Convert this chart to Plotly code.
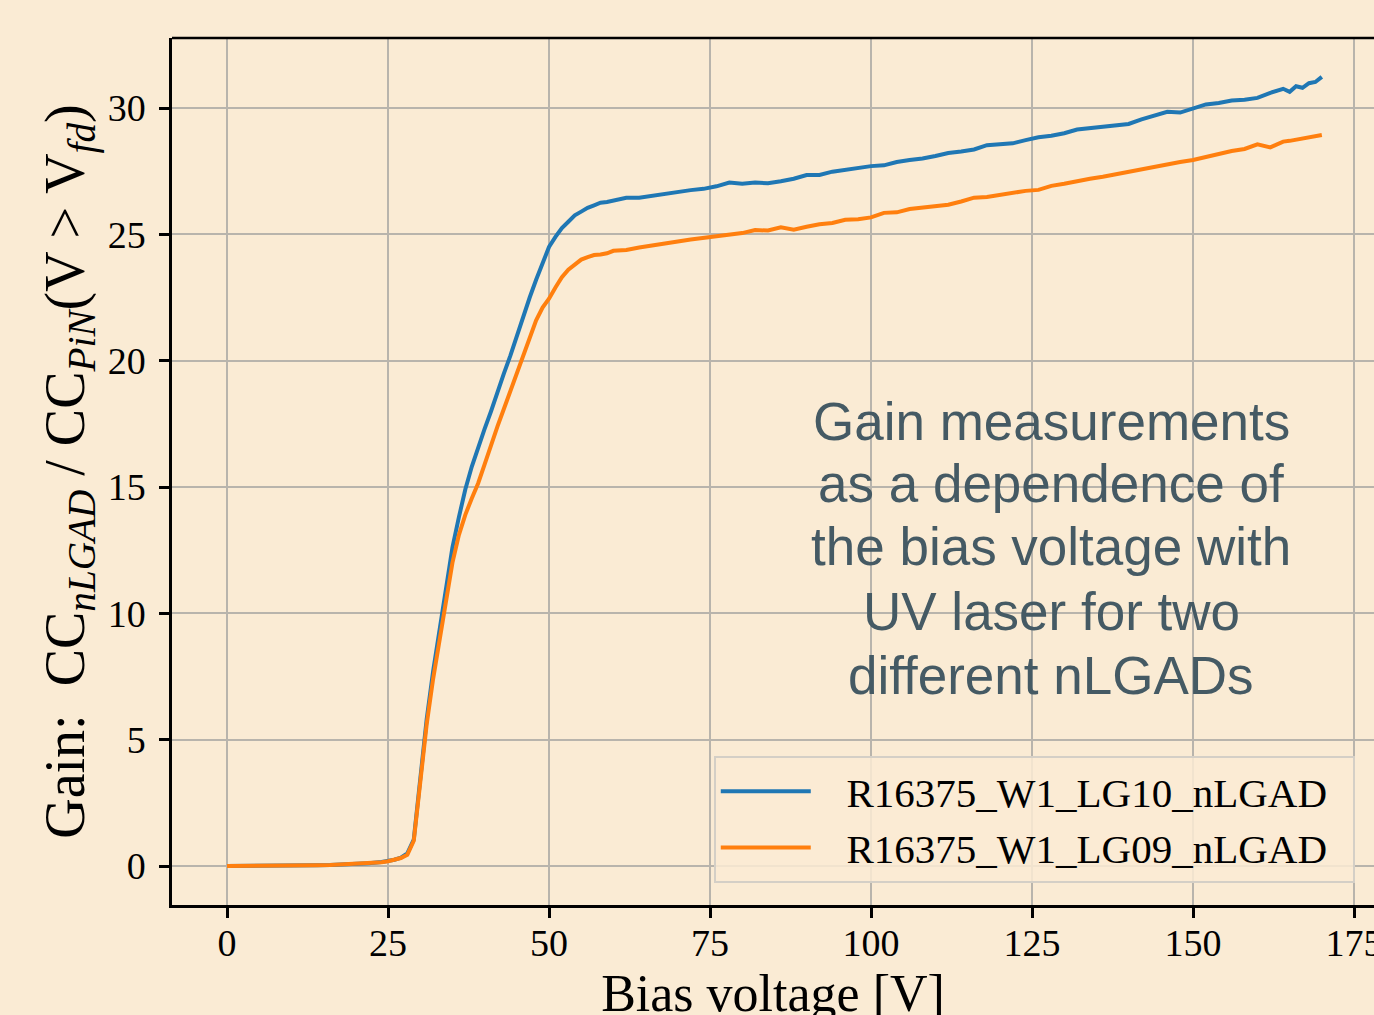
import plotly.graph_objects as go

# ---- data ----
bias_voltage = [0, 2, 4, 6, 8, 10, 12, 14, 16, 18, 20, 22, 24,
                25, 26, 27, 28, 29, 30, 31, 32, 33, 34, 35, 36, 37, 38, 39, 40,
                41, 42, 43, 44, 45, 46, 47, 48, 49, 50, 51, 52, 53, 54, 55, 56,
                57, 58, 59, 60,
                62, 64, 66, 68, 70, 72, 74, 76, 78, 80, 82, 84, 86, 88, 90, 92,
                94, 96, 98, 100, 102, 104, 106, 108, 110, 112, 114, 116, 118, 120,
                122, 124, 126, 128, 130, 132, 134, 136, 138, 140, 142, 144, 146,
                148, 150, 152, 154, 156, 158, 160, 162, 164,
                165, 166, 167, 168, 169, 170]

gain_lg10 = [0.0, 0.0, 0.0, 0.01, 0.01, 0.02, 0.03, 0.03, 0.04, 0.06, 0.08, 0.11, 0.16,
             0.19, 0.25, 0.33, 0.5, 1.05, 3.4, 5.8, 7.7, 9.4, 11.0, 12.6, 13.8, 14.9, 15.8, 16.6, 17.3,
             18.0, 18.8, 19.5, 20.2, 21.0, 21.8, 22.5, 23.2, 23.9, 24.5, 24.9, 25.25, 25.5, 25.75, 25.9, 26.05,
             26.15, 26.25, 26.28, 26.33,
             26.45, 26.45, 26.53, 26.6, 26.68, 26.75, 26.8, 26.9, 27.05, 27.0, 27.05, 27.02, 27.1, 27.2, 27.35, 27.35,
             27.48, 27.55, 27.65, 27.7, 27.73, 27.86, 27.94, 28.0, 28.1, 28.22, 28.28, 28.36, 28.53, 28.55,
             28.6, 28.73, 28.84, 28.9, 29.0, 29.15, 29.2, 29.24, 29.33, 29.37, 29.55, 29.72, 29.85,
             29.82, 29.98, 30.14, 30.2, 30.3, 30.33, 30.4, 30.6, 30.76,
             30.64, 30.86, 30.8, 30.98, 31.03, 31.23]

gain_lg09 = [0.0, 0.0, 0.0, 0.01, 0.01, 0.02, 0.03, 0.03, 0.04, 0.06, 0.08, 0.1, 0.15,
             0.19, 0.24, 0.32, 0.45, 1.0, 3.3, 5.6, 7.4, 9.0, 10.5, 12.0, 13.1, 13.9, 14.55, 15.15, 15.9,
             16.7, 17.4, 18.1, 18.8, 19.5, 20.2, 20.9, 21.6, 22.1, 22.45, 22.9, 23.3, 23.6, 23.8, 24.0, 24.1,
             24.18, 24.2, 24.25, 24.35,
             24.38, 24.48, 24.55, 24.62, 24.72, 24.8, 24.86, 24.92, 25.0, 25.05, 25.17, 25.15, 25.28, 25.18, 25.3, 25.4,
             25.45, 25.58, 25.6, 25.67, 25.85, 25.87, 26.0, 26.06, 26.12, 26.17, 26.3, 26.45, 26.48, 26.57,
             26.64, 26.72, 26.76, 26.92, 27.0, 27.12, 27.2, 27.28, 27.38, 27.45, 27.58, 27.67, 27.75,
             27.86, 27.94, 28.07, 28.16, 28.3, 28.38, 28.56, 28.44, 28.67,
             28.7, 28.75, 28.78, 28.83, 28.88, 28.93]

series_names = ["R16375_W1_LG10_nLGAD", "R16375_W1_LG09_nLGAD"]
series_colors = ["#1f77b4", "#ff7f0e"]

x_ticks = [0, 25, 50, 75, 100, 125, 150, 175]
y_ticks = [0, 5, 10, 15, 20, 25, 30]

note_lines = ["Gain measurements", "as a dependence of", "the bias voltage with",
              "UV laser for two", "different nLGADs"]

# ---- figure ----
BG = "#FAEBD4"
SERIF = "Liberation Serif, Times New Roman, serif"
NB = "\u00a0"

fig = go.Figure()
for name, ys, col in zip(series_names, [gain_lg10, gain_lg09], series_colors):
    fig.add_trace(go.Scatter(x=bias_voltage, y=ys, mode="lines",
                             name=NB * 3 + name + NB * 2,
                             line=dict(color=col, width=4)))

axis_common = dict(showgrid=True, gridcolor="#b8b4ac", gridwidth=1.6,
                   zeroline=False, showline=True, linecolor="black", linewidth=2.5,
                   ticks="outside", ticklen=10, tickwidth=2.5, tickcolor="black",
                   automargin=False,
                   tickfont=dict(family=SERIF, size=38, color="black"))

fig.update_xaxes(range=[-8.54, 178.1], tickvals=x_ticks, ticklabeloverflow="allow",
                 ticklabelstandoff=-7,
                 title=dict(text="Bias voltage [V]", font=dict(family=SERIF, size=52, color="black"),
                            standoff=12),
                 **axis_common)
fig.update_yaxes(range=[-1.54, 32.77], tickvals=y_ticks, ticklabelstandoff=6,
                 title=dict(text="Gain:  CC<sub><i>nLGAD</i></sub> / CC<sub><i>PiN</i></sub>(V &gt; V<sub><i>fd</i></sub>)",
                            font=dict(family=SERIF, size=56, color="black"), standoff=6),
                 **axis_common)

# top frame line
fig.add_shape(type="line", xref="paper", yref="paper", x0=0, x1=1, y0=1, y1=1,
              line=dict(color="black", width=2.5))

# annotation text block
line_y = [17.6, 15.15, 12.66, 10.09, 7.56]
for txt, yy in zip(note_lines, line_y):
    fig.add_annotation(x=127.95, y=yy, xref="x", yref="y", text=txt, showarrow=False,
                       xanchor="center", yanchor="middle",
                       font=dict(family="Liberation Sans, Arial, sans-serif", size=53, color="#455A64"))

# figure is taller than the window: the bottom of the x title is cropped like the reference
fig.update_layout(
    width=1374, height=1045,
    margin=dict(l=172, r=0, t=38, b=140, autoexpand=False),
    paper_bgcolor=BG, plot_bgcolor=BG,
    showlegend=True,
    legend=dict(x=0.984, y=0.0254, xanchor="right", yanchor="bottom",
                bgcolor="rgba(250,235,212,0.85)", bordercolor="#d4cfc6", borderwidth=2,
                font=dict(family=SERIF, size=41, color="black"), itemwidth=90,
                tracegroupgap=0),
)

fig.write_html("out.html", config={"displayModeBar": False},
               post_script="document.body.style.margin='0';document.body.style.overflow='hidden';")
